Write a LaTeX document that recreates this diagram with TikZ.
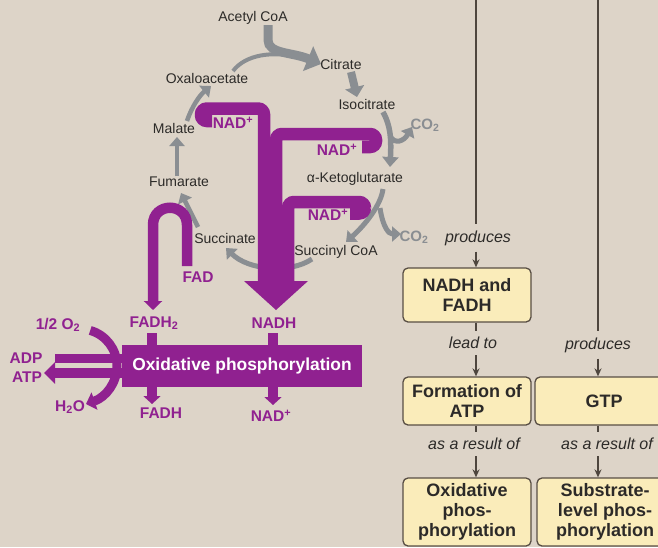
\documentclass[tikz,border=0pt]{standalone}
\usepackage{fontspec}
\setmainfont{Liberation Sans}
\usetikzlibrary{arrows.meta}
\definecolor{bgc}{RGB}{221,212,200}
\definecolor{pur}{RGB}{144,33,144}
\definecolor{gry}{RGB}{138,142,146}
\definecolor{txt}{RGB}{44,42,40}
\definecolor{boxf}{RGB}{250,236,186}
\definecolor{boxb}{RGB}{88,78,68}
\definecolor{rln}{RGB}{78,70,62}
\begin{document}
\begin{tikzpicture}[x=1pt,y=-1pt,
  lbl/.style={text=txt, font=\fontsize{14}{16}\selectfont, inner sep=0pt},
  plbl/.style={text=pur, font=\fontsize{15.5}{17}\selectfont\bfseries, inner sep=0pt},
  glbl/.style={text=gry, font=\fontsize{15}{17}\selectfont\bfseries, inner sep=0pt},
  itl/.style={text=txt, font=\fontsize{16}{18}\selectfont\itshape, inner xsep=0pt, inner ysep=6pt},
  bx/.style={draw=boxb, fill=boxf, rounded corners=5pt, line width=1.3pt, align=center,
     text=txt, font=\fontsize{18}{20}\selectfont\bfseries, inner sep=0pt},
  rline/.style={draw=rln, line width=1.4pt},
  rarr/.style={draw=rln, line width=1.4pt, -{Stealth[length=8pt,width=7pt]}},
  gar/.style={draw=gry, line width=5pt, -{Triangle[length=9pt,width=15pt]}},
  pband/.style={draw=pur, line width=12.5pt, rounded corners=6pt, line cap=butt},
  parr/.style={draw=pur, line width=10pt, -{Triangle[length=9pt,width=18pt]}}
]
\useasboundingbox (0,0) rectangle (658,547);
\fill[bgc] (0,0) rectangle (658,547);

% ---------- cycle labels ----------
\node[lbl] (acetyl) at (253,18) {Acetyl CoA};
\node[lbl] (citrate) at (341,64) {Citrate};
\node[lbl] (oxalo) at (207,78) {Oxaloacetate};
\node[lbl] (isocit) at (367,104) {Isocitrate};
\node[lbl] (malate) at (174,128) {Malate};
\node[lbl] (akg) at (355,179) {α-Ketoglutarate};
\node[lbl] (fumarate) at (179,182) {Fumarate};
\node[lbl] (succinate) at (225,238) {Succinate};
\node[lbl] (succoa) at (336,252) {Succinyl CoA};
\node[glbl] (co2a) at (425,125) {CO\textsubscript{2}};
\node[glbl] (co2b) at (414,237) {CO\textsubscript{2}};

% ---------- gray cycle arrows ----------
\coordinate (oxA) at (233,71);
\coordinate (acA) at (268,25);
\coordinate (ciA) at (351,72);
\coordinate (isA) at (383,112);
\coordinate (brA) at (390,136);
\coordinate (kgA) at (383,189);
\coordinate (brB) at (380,208);
\coordinate (scA) at (312,259);
\coordinate (suA) at (198,227);
\coordinate (fuA) at (177,176);
\coordinate (maA) at (187,121);
\draw[draw=gry, line width=4pt] (oxA) .. controls (245,55) and (272,50) .. (302,58);
\draw[draw=gry, line width=9pt, -{Triangle[length=14pt,width=26pt]}] (acA) -- (268,40) .. controls (268,54) and (292,52) .. (321,64);
\draw[draw=gry, line width=8pt, -{Triangle[length=10pt,width=19pt]}] (ciA) -- (357,97);
\draw[gar, line width=5.5pt, -{Triangle[length=10pt,width=16pt]}] (isA) .. controls (392,128) and (391,145) .. (390,167);
\draw[gar, -{Triangle[length=9pt,width=15pt]}] (brA) .. controls (395,145) and (404,141) .. (412,127);
\draw[gar] (kgA) .. controls (381,205) and (365,225) .. (346,242);
\draw[gar, -{Triangle[length=9pt,width=15pt]}] (brB) .. controls (383,228) and (389,234) .. (401,234);
\draw[gar] (scA) .. controls (290,274) and (248,270) .. (226,248);
\draw[gar, line width=4.5pt] (suA) -- (181,193);
\draw[gar, line width=4.5pt] (fuA) -- (177,137);
\draw[gar, line width=4.5pt] (maA) .. controls (192,106) and (200,95) .. (211,86);

% ---------- purple NADH trunk ----------
\draw[pband] (350,213.5) -- (365,213.5) -- (365,202) -- (288,202) -- (288,284);
\draw[pband] (362,147) -- (376,147) -- (376,134) -- (276,134) -- (276,284);
\draw[pband] (212,121) -- (201,121) -- (201,108.5) -- (264,108.5) -- (264,284);
\fill[pur] (244,281) -- (308,281) -- (276,310) -- cycle;
\node[plbl] (nadA) at (233,123) {NAD\textsuperscript{+}};
\node[plbl] (nadB) at (337,150) {NAD\textsuperscript{+}};
\node[plbl] (nadC) at (328,215) {NAD\textsuperscript{+}};

% ---------- FAD hook ----------
\node[plbl] (fad) at (198,277) {FAD};
\draw[parr, line width=10.5pt] (187,266) -- (187,225) .. controls (187,202) and (153,202) .. (153,225) -- (153,310);

% ---------- oxidative phosphorylation ----------
\node[plbl] (o2) at (58,325) {1/2 O\textsubscript{2}};
\node[plbl] (fadh2) at (154,323) {FADH\textsubscript{2}};
\node[plbl] (nadh) at (274,323) {NADH};
\node[plbl] (adp) at (26,358) {ADP};
\node[plbl] (atp) at (27,377) {ATP};
\node[plbl] (h2o) at (70,407) {H\textsubscript{2}O};
\node[plbl] (fadh) at (161,413) {FADH};
\node[plbl] (nadp) at (271,416) {NAD\textsuperscript{+}};

\node[fill=pur, minimum width=240pt, minimum height=42pt, inner sep=0pt,
      text=white, font=\fontsize{17.4}{19}\selectfont\bfseries] (oxph) at (242,366) {Oxidative phosphorylation};

\draw[draw=pur, line width=10pt] (152,333) -- (152,347);
\draw[draw=pur, line width=10pt] (273,333) -- (273,347);
\draw[draw=pur, line width=10pt, -{Triangle[length=8pt,width=17pt]}] (152,386) -- (152,404);
\draw[draw=pur, line width=10pt, -{Triangle[length=8pt,width=17pt]}] (273,386) -- (273,405);

\draw[draw=pur, line width=9pt] (55,358.5) -- (125,358.5);
\draw[draw=pur, line width=9.5pt, -{Triangle[length=11pt,width=21pt]}] (125,373) -- (44,373);
\draw[draw=pur, line width=9pt, -{Triangle[length=9pt,width=18pt]}]
  (90.2,330.4) .. controls (106.1,335) and (117,349.5) .. (117,366)
  .. controls (117,382.5) and (106.1,397.1) .. (86,404);

% ---------- right panel ----------
\node[bx, minimum width=128pt, minimum height=54pt] (b1) at (467,295) {NADH and\\FADH};
\node[bx, minimum width=128pt, minimum height=48pt] (b2) at (467,401) {Formation of\\ATP};
\node[bx, minimum width=128pt, minimum height=68pt] (b3) at (467,512) {Oxidative\\phos-\\phorylation};
\node[bx, minimum width=138pt, minimum height=48pt] (b4) at (604,401) {GTP};
\node[bx, minimum width=136pt, minimum height=68pt] (b5) at (605,512) {Substrate-\\level phos-\\phorylation};

\node[itl] (prod1) at (478,238) {produces};
\node[itl] (lead) at (473,343) {lead to};
\node[itl] (res1) at (474,444) {as a result of};
\node[itl] (prod2) at (598,345) {produces};
\node[itl] (res2) at (607,444) {as a result of};

\coordinate (t1) at (476,0);
\coordinate (t2) at (598,0);
\draw[rline] (t1) -- (t1 |- prod1.north);
\draw[rarr] (t1 |- prod1.south) -- (t1 |- b1.north);
\draw[rline] (t1 |- b1.south) -- (t1 |- lead.north);
\draw[rarr] (t1 |- lead.south) -- (t1 |- b2.north);
\draw[rline] (t1 |- b2.south) -- (t1 |- res1.north);
\draw[rarr] (t1 |- res1.south) -- (t1 |- b3.north);
\draw[rline] (t2) -- (t2 |- prod2.north);
\draw[rarr] (t2 |- prod2.south) -- (t2 |- b4.north);
\draw[rline] (t2 |- b4.south) -- (t2 |- res2.north);
\draw[rarr] (t2 |- res2.south) -- (t2 |- b5.north);
\end{tikzpicture}
\end{document}
